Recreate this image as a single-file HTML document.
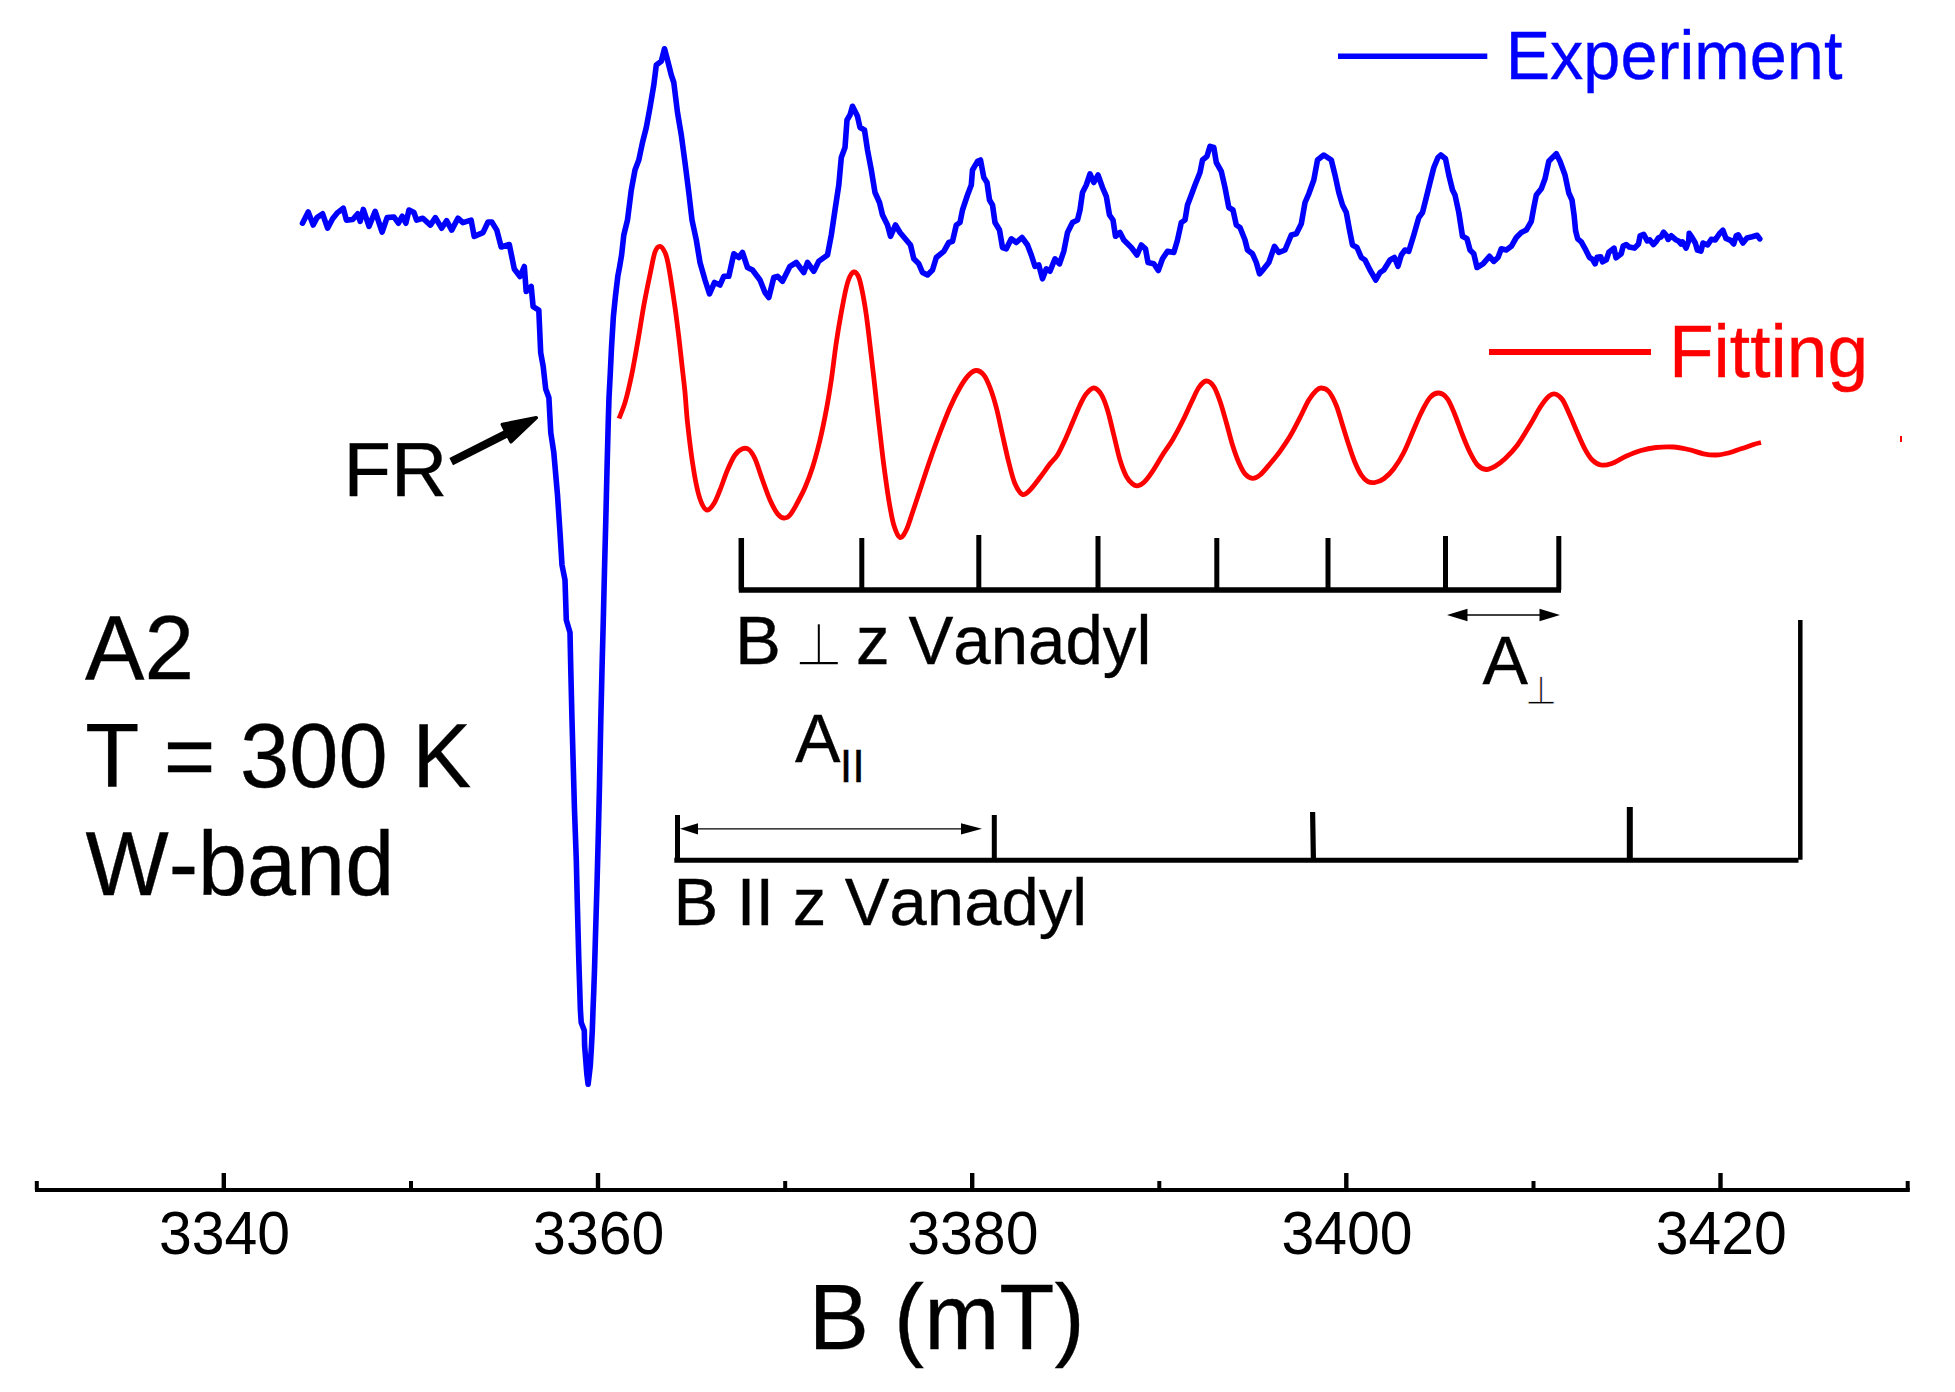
<!DOCTYPE html>
<html lang="en"><head><meta charset="utf-8"><title>W-band EPR spectrum A2</title>
<style>html,body{margin:0;padding:0;background:#fff;overflow:hidden}svg{display:block}text{font-family:"Liberation Sans",Arial,Helvetica,sans-serif;fill:#000;font-kerning:none;white-space:pre;stroke:#000;stroke-width:0.35px}.sym{font-family:"DejaVu Sans",sans-serif;stroke:#fff;paint-order:fill stroke}</style>
</head><body>
<svg width="1955" height="1392" viewBox="0 0 1955 1392">
<rect width="1955" height="1392" fill="#fff"/>
<path d="M302.5,223.2 L308.2,212.0 L313.2,225.0 L317.0,217.6 L322.6,213.8 L327.6,228.2 L332.6,218.8 L337.6,212.6 L343.3,208.2 L346.4,220.1 L352.7,219.5 L357.7,213.8 L360.2,221.4 L363.3,209.4 L369.0,226.4 L375.2,211.3 L382.1,232.0 L387.1,217.6 L394.0,217.0 L398.4,223.2 L402.2,216.3 L405.9,223.2 L409.0,210.0 L414.0,212.6 L416.6,220.1 L422.8,218.2 L430.4,225.1 L435.4,217.6 L441.6,228.2 L446.6,220.7 L451.7,230.1 L457.9,218.2 L462.9,222.6 L471.1,220.1 L474.2,236.4 L483.0,232.6 L488.0,222.0 L491.8,222.0 L496.8,230.1 L501.2,247.0 L509.3,244.5 L514.3,269.0 L520.0,276.5 L524.3,266.5 L526.2,291.5 L531.2,286.5 L533.1,306.6 L538.8,310.1 L540.7,352.7 L543.2,366.5 L545.7,389.0 L548.9,397.8 L550.8,432.9 L553.8,452.5 L557.5,495.0 L560.0,532.5 L562.0,565.0 L565.0,580.0 L566.3,620.0 L570.0,632.5 L570.8,670.0 L572.0,720.0 L573.3,767.5 L574.5,810.0 L576.3,860.0 L577.5,910.0 L578.8,960.0 L580.4,1010.0 L581.2,1022.4 L584.3,1030.4 L584.6,1045.5 L585.8,1060.6 L586.8,1073.7 L588.1,1084.3 L590.3,1065.6 L591.5,1045.5 L592.3,1030.4 L593.0,1010.3 L593.8,990.2 L594.5,970.0 L595.5,935.0 L597.0,885.0 L598.3,835.0 L599.5,785.0 L600.0,760.0 L600.8,720.0 L602.0,670.0 L603.3,620.0 L604.5,570.0 L605.8,520.0 L607.0,470.0 L608.3,420.0 L609.0,397.8 L610.3,372.8 L611.5,347.7 L613.4,316.4 L615.3,297.6 L617.8,276.3 L619.7,266.3 L621.6,255.0 L623.8,235.0 L627.5,220.0 L631.3,190.0 L635.0,170.0 L638.8,160.0 L642.5,142.5 L646.3,127.5 L650.0,107.5 L653.8,85.0 L656.3,65.0 L661.3,61.3 L664.5,48.8 L667.5,60.0 L671.3,75.0 L673.8,82.5 L677.5,112.5 L681.3,135.0 L685.0,162.5 L688.8,192.5 L692.0,220.0 L696.3,240.0 L700.0,262.5 L705.0,280.0 L709.5,293.8 L714.5,282.5 L720.0,285.0 L723.8,276.3 L728.8,276.3 L733.8,253.8 L738.8,257.5 L742.5,252.5 L747.5,267.5 L752.5,270.0 L760.0,280.0 L765.0,292.5 L768.8,297.5 L773.8,277.5 L777.5,276.3 L782.5,281.3 L790.0,266.3 L796.3,262.5 L803.8,272.5 L807.5,262.5 L813.8,271.3 L818.8,261.3 L827.5,255.0 L831.3,235.0 L835.0,210.0 L838.8,185.0 L841.3,157.5 L845.0,147.5 L847.0,120.0 L850.0,115.0 L852.5,106.3 L857.5,116.3 L860.0,127.5 L864.5,130.0 L867.5,150.0 L871.3,170.0 L875.0,192.5 L879.5,202.5 L882.5,215.0 L887.5,225.0 L890.5,236.3 L895.5,225.0 L900.0,232.5 L906.3,240.0 L910.5,245.0 L913.8,258.8 L918.8,263.8 L922.5,272.5 L927.5,275.0 L932.5,270.0 L936.3,257.5 L943.8,251.3 L948.8,242.5 L952.5,241.3 L956.3,225.0 L960.0,222.5 L962.5,210.0 L967.5,195.0 L971.3,185.0 L972.5,170.0 L977.5,161.3 L980.5,160.0 L983.8,177.5 L987.0,182.5 L989.5,200.0 L992.5,205.0 L995.0,222.5 L999.5,230.0 L1002.5,247.5 L1006.3,248.8 L1011.3,238.8 L1016.3,242.5 L1022.0,237.5 L1027.5,245.0 L1031.3,255.0 L1035.0,266.3 L1038.8,265.0 L1042.5,278.8 L1046.3,268.8 L1050.0,271.3 L1055.0,258.8 L1059.5,263.8 L1063.8,251.3 L1067.5,232.5 L1072.5,222.5 L1077.5,220.0 L1080.0,210.0 L1082.5,192.5 L1086.3,185.0 L1090.0,173.8 L1093.8,182.5 L1098.0,175.0 L1102.5,187.5 L1106.3,196.3 L1109.5,215.0 L1113.0,220.0 L1115.5,236.3 L1120.0,232.5 L1123.8,240.0 L1131.3,247.5 L1137.0,255.0 L1141.3,245.0 L1145.5,248.8 L1148.0,262.5 L1153.8,263.8 L1158.3,270.5 L1162.5,258.8 L1167.5,251.3 L1173.8,252.5 L1177.5,240.0 L1181.3,222.5 L1185.0,220.0 L1187.5,205.0 L1191.3,195.0 L1195.0,185.0 L1200.0,172.5 L1202.5,160.0 L1207.0,156.3 L1210.0,146.3 L1213.8,147.5 L1216.3,162.5 L1221.3,171.3 L1225.0,187.5 L1228.8,207.5 L1233.0,210.0 L1236.3,225.0 L1240.0,227.5 L1245.0,240.0 L1247.5,250.0 L1252.5,253.8 L1256.3,262.5 L1259.5,273.8 L1263.8,268.8 L1268.8,262.5 L1274.5,246.3 L1278.8,252.5 L1285.0,250.0 L1291.3,235.0 L1296.3,233.8 L1301.3,223.8 L1305.0,202.5 L1308.8,193.8 L1313.8,180.0 L1317.5,160.0 L1323.8,155.0 L1331.3,160.0 L1335.0,175.0 L1338.8,192.5 L1342.5,205.0 L1346.3,212.5 L1349.5,230.0 L1352.5,245.0 L1357.0,247.5 L1361.3,257.5 L1365.0,260.0 L1370.0,270.0 L1375.8,280.0 L1380.0,272.5 L1383.8,270.0 L1390.0,260.0 L1394.5,257.5 L1398.0,266.3 L1401.3,255.0 L1405.0,250.0 L1408.8,251.3 L1413.8,235.0 L1418.8,217.5 L1422.5,212.5 L1426.3,197.5 L1430.0,182.5 L1433.8,167.5 L1438.0,157.5 L1440.8,155.0 L1445.5,158.8 L1448.8,175.0 L1452.5,190.0 L1455.0,195.0 L1458.8,212.5 L1462.5,236.3 L1467.0,238.8 L1470.0,250.0 L1473.8,253.8 L1477.0,267.5 L1483.0,263.8 L1489.5,256.3 L1493.8,261.3 L1498.0,257.5 L1501.3,248.8 L1506.3,250.0 L1511.3,246.3 L1516.3,237.5 L1521.3,232.5 L1526.3,230.0 L1531.3,221.3 L1533.8,207.5 L1536.3,195.0 L1541.3,188.8 L1545.0,178.8 L1548.8,161.3 L1552.5,157.5 L1556.3,153.8 L1560.0,161.3 L1565.0,175.0 L1568.8,193.0 L1572.0,200.0 L1574.1,215.3 L1575.6,230.7 L1577.7,238.9 L1581.3,241.9 L1585.3,249.1 L1589.4,257.3 L1592.5,259.3 L1595.1,263.9 L1597.1,257.3 L1600.7,256.8 L1602.5,261.9 L1606.3,259.8 L1608.9,252.2 L1614.0,248.1 L1616.0,257.8 L1621.2,253.7 L1623.2,246.0 L1626.3,244.5 L1629.3,247.1 L1634.5,248.1 L1638.5,244.0 L1640.1,235.8 L1643.7,234.3 L1647.2,240.9 L1649.8,239.9 L1653.4,244.5 L1655.9,241.9 L1658.5,237.9 L1661.1,236.8 L1663.6,232.2 L1666.2,235.3 L1668.2,239.4 L1671.3,235.8 L1675.4,239.4 L1678.4,240.9 L1681.0,244.0 L1682.5,241.9 L1686.1,248.1 L1688.7,240.9 L1689.2,233.2 L1692.3,237.9 L1695.3,243.0 L1697.4,250.1 L1700.9,251.2 L1703.0,243.0 L1707.6,245.0 L1711.2,239.4 L1715.3,239.9 L1719.4,233.8 L1722.9,230.2 L1726.0,238.4 L1730.6,240.4 L1733.7,244.0 L1736.2,235.8 L1738.3,234.8 L1742.9,243.0 L1747.0,237.9 L1752.1,236.8 L1757.2,235.3 L1759.8,238.9" fill="none" stroke="#0000ff" stroke-width="5.6" stroke-linejoin="round" stroke-linecap="round"/>
<path d="M619.0,418.5 C620.0,415.7 623.2,408.8 625.3,401.6 C627.4,394.4 629.5,385.3 631.6,375.3 C633.7,365.3 635.7,353.4 637.8,341.5 C639.9,329.6 642.0,315.4 644.1,303.9 C646.2,292.4 648.6,281.1 650.4,272.5 C652.2,263.9 653.4,256.4 655.0,252.0 C656.6,247.6 658.3,246.2 660.0,246.3 C661.7,246.4 663.7,249.7 665.0,252.5 C666.3,255.3 666.9,257.6 668.0,263.0 C669.1,268.4 670.5,277.2 671.7,285.1 C672.9,293.0 674.2,301.8 675.4,310.1 C676.5,318.5 677.5,326.4 678.6,335.2 C679.7,344.0 680.7,353.6 681.7,362.8 C682.7,372.0 683.8,380.4 684.8,390.3 C685.8,400.2 686.2,410.5 687.5,422.5 C688.8,434.5 690.8,451.2 692.5,462.5 C694.2,473.8 695.8,482.9 697.5,490.0 C699.2,497.1 700.8,501.7 702.5,505.0 C704.2,508.3 705.6,510.2 707.5,510.0 C709.4,509.8 711.7,507.1 713.8,503.8 C715.9,500.5 717.7,495.6 720.0,490.0 C722.3,484.4 725.0,475.8 727.5,470.0 C730.0,464.2 732.5,458.5 735.0,455.0 C737.5,451.5 740.2,449.7 742.5,448.8 C744.8,447.9 746.7,447.8 748.8,449.5 C750.9,451.2 752.7,453.7 755.0,458.8 C757.3,463.9 760.0,473.1 762.5,480.0 C765.0,486.9 767.5,494.4 770.0,500.0 C772.5,505.6 775.2,510.8 777.5,513.8 C779.8,516.8 781.7,517.8 783.8,518.0 C785.9,518.2 787.7,517.6 790.0,515.0 C792.3,512.4 795.0,507.1 797.5,502.5 C800.0,497.9 802.5,493.3 805.0,487.5 C807.5,481.7 810.0,475.4 812.5,467.5 C815.0,459.6 817.7,449.6 820.0,440.0 C822.3,430.4 824.4,420.0 826.3,410.0 C828.2,400.0 829.6,391.2 831.3,380.0 C833.0,368.8 834.6,353.8 836.3,342.5 C838.0,331.2 839.6,321.7 841.3,312.5 C843.0,303.3 844.8,293.5 846.3,287.5 C847.8,281.5 848.7,278.9 850.0,276.3 C851.3,273.7 852.8,271.8 854.3,272.0 C855.8,272.2 857.4,274.1 858.8,277.5 C860.2,280.9 861.2,286.2 862.5,292.5 C863.8,298.8 865.0,306.2 866.3,315.0 C867.5,323.8 868.8,334.6 870.0,345.0 C871.2,355.4 872.3,364.6 873.8,377.5 C875.3,390.4 877.1,407.9 878.8,422.5 C880.5,437.1 882.1,452.1 883.8,465.0 C885.5,477.9 887.1,490.0 888.8,500.0 C890.5,510.0 891.9,518.8 893.8,525.0 C895.7,531.2 897.9,536.7 900.0,537.5 C902.1,538.3 904.2,534.2 906.3,530.0 C908.4,525.8 910.2,519.2 912.5,512.5 C914.8,505.8 917.1,498.8 920.0,490.0 C922.9,481.2 926.7,469.6 930.0,460.0 C933.3,450.4 936.7,441.2 940.0,432.5 C943.3,423.8 946.7,415.0 950.0,407.5 C953.3,400.0 956.9,392.9 960.0,387.5 C963.1,382.1 966.1,377.8 968.8,375.0 C971.5,372.2 973.8,370.5 976.3,370.5 C978.8,370.5 981.5,372.2 983.8,375.0 C986.1,377.8 987.9,382.1 990.0,387.5 C992.1,392.9 994.2,399.6 996.3,407.5 C998.4,415.4 1000.4,425.8 1002.5,435.0 C1004.6,444.2 1006.7,454.4 1008.8,462.5 C1010.9,470.6 1012.7,478.5 1015.0,483.8 C1017.3,489.1 1020.0,493.5 1022.5,494.5 C1025.0,495.5 1027.1,492.8 1030.0,490.0 C1032.9,487.2 1036.7,481.9 1040.0,477.5 C1043.3,473.1 1047.1,467.6 1050.0,463.8 C1052.9,460.1 1055.0,459.0 1057.5,455.0 C1060.0,451.0 1062.5,445.4 1065.0,440.0 C1067.5,434.6 1070.0,428.3 1072.5,422.5 C1075.0,416.7 1077.7,409.8 1080.0,405.0 C1082.3,400.2 1084.0,396.6 1086.3,393.8 C1088.6,391.0 1091.3,387.9 1093.8,388.0 C1096.3,388.1 1099.0,390.8 1101.3,394.5 C1103.6,398.2 1105.4,403.2 1107.5,410.0 C1109.6,416.8 1111.7,426.7 1113.8,435.0 C1115.9,443.3 1117.9,453.1 1120.0,460.0 C1122.1,466.9 1124.2,472.3 1126.3,476.3 C1128.4,480.3 1130.6,482.2 1132.5,483.8 C1134.4,485.4 1135.6,486.0 1137.5,485.8 C1139.4,485.6 1141.3,484.9 1143.8,482.5 C1146.3,480.1 1149.4,475.9 1152.5,471.3 C1155.6,466.7 1159.2,460.2 1162.5,455.0 C1165.8,449.8 1169.2,445.6 1172.5,440.0 C1175.8,434.4 1179.4,427.6 1182.5,421.3 C1185.6,415.1 1188.6,408.1 1191.3,402.5 C1194.0,396.9 1196.3,391.1 1198.8,387.5 C1201.3,383.9 1203.8,381.2 1206.3,381.0 C1208.8,380.8 1211.5,383.1 1213.8,386.5 C1216.1,389.9 1217.9,395.3 1220.0,401.3 C1222.1,407.3 1224.2,415.2 1226.3,422.5 C1228.4,429.8 1230.4,438.3 1232.5,445.0 C1234.6,451.7 1236.7,457.7 1238.8,462.5 C1240.9,467.3 1242.7,471.2 1245.0,473.8 C1247.3,476.4 1250.0,478.1 1252.5,478.3 C1255.0,478.5 1257.1,477.4 1260.0,475.0 C1262.9,472.6 1266.7,467.8 1270.0,463.8 C1273.3,459.9 1276.7,455.9 1280.0,451.3 C1283.3,446.7 1286.7,441.9 1290.0,436.3 C1293.3,430.7 1296.9,423.6 1300.0,417.5 C1303.1,411.4 1306.1,404.5 1308.8,400.0 C1311.5,395.5 1314.2,392.5 1316.3,390.5 C1318.4,388.5 1319.2,387.8 1321.3,388.0 C1323.4,388.2 1326.3,388.6 1328.8,391.5 C1331.3,394.4 1334.0,399.9 1336.3,405.5 C1338.6,411.1 1340.4,418.4 1342.5,425.0 C1344.6,431.6 1346.7,438.8 1348.8,445.0 C1350.9,451.2 1352.9,457.5 1355.0,462.5 C1357.1,467.5 1359.2,471.9 1361.3,475.0 C1363.4,478.1 1365.2,480.1 1367.5,481.3 C1369.8,482.6 1372.3,482.9 1375.0,482.5 C1377.7,482.1 1380.7,481.1 1383.8,478.8 C1386.9,476.5 1390.5,473.2 1393.8,468.8 C1397.1,464.4 1400.7,458.6 1403.8,452.5 C1406.9,446.4 1409.6,439.2 1412.5,432.5 C1415.4,425.8 1418.4,418.3 1421.3,412.5 C1424.2,406.7 1427.1,400.8 1430.0,397.5 C1432.9,394.2 1435.9,392.8 1438.8,393.0 C1441.7,393.2 1444.8,395.1 1447.5,398.8 C1450.2,402.5 1452.5,409.0 1455.0,415.0 C1457.5,421.0 1460.0,428.8 1462.5,435.0 C1465.0,441.2 1467.5,447.5 1470.0,452.5 C1472.5,457.5 1474.8,462.2 1477.5,465.0 C1480.2,467.8 1483.4,469.3 1486.3,469.5 C1489.2,469.7 1491.9,468.1 1495.0,466.3 C1498.1,464.5 1501.2,462.4 1505.0,458.8 C1508.8,455.2 1513.3,450.6 1517.5,445.0 C1521.7,439.4 1526.2,431.2 1530.0,425.0 C1533.8,418.8 1536.9,412.3 1540.0,407.5 C1543.1,402.7 1546.3,398.6 1548.8,396.3 C1551.3,394.1 1552.8,393.5 1555.0,394.0 C1557.2,394.5 1559.8,396.0 1562.3,399.5 C1564.8,403.0 1567.3,409.5 1569.8,415.0 C1572.3,420.5 1574.8,426.9 1577.3,432.5 C1579.8,438.1 1582.3,444.2 1584.8,448.8 C1587.3,453.4 1589.6,457.3 1592.3,460.0 C1595.0,462.7 1597.9,464.4 1601.0,465.0 C1604.1,465.6 1606.8,465.2 1611.0,463.8 C1615.2,462.4 1621.0,458.5 1626.0,456.3 C1631.0,454.1 1636.0,452.0 1641.0,450.5 C1646.0,449.0 1650.6,448.1 1656.0,447.5 C1661.4,446.9 1668.1,446.7 1673.5,447.0 C1678.9,447.3 1683.5,448.4 1688.5,449.5 C1693.5,450.6 1698.9,452.9 1703.5,453.8 C1708.1,454.7 1711.8,455.1 1716.0,455.0 C1720.2,454.9 1724.3,454.0 1728.5,453.0 C1732.7,452.0 1736.8,450.2 1741.0,448.8 C1745.2,447.4 1750.2,445.6 1753.5,444.5 C1756.8,443.4 1759.8,442.8 1761.0,442.5" fill="none" stroke="#ff0000" stroke-width="4.8" stroke-linejoin="round" stroke-linecap="butt"/>
<line x1="1338" y1="56.2" x2="1487.3" y2="56.2" stroke="#0000ff" stroke-width="5.5"/>
<line x1="1489" y1="352" x2="1651" y2="352" stroke="#ff0000" stroke-width="6"/>
<rect x="1900" y="436" width="2" height="6" fill="#ff0000"/>
<text transform="translate(1505.67,78.90) scale(0.9692,1)" font-size="68.70" style="fill:#0000ff;stroke:#0000ff">Experiment</text>
<text transform="translate(1668.95,377.00) scale(0.9857,1)" font-size="74.20" style="fill:#ff0000;stroke:#ff0000">Fitting</text>
<text transform="translate(343.57,495.90) scale(1.0210,1)" font-size="76.23">FR</text>
<text transform="translate(85.00,678.80) scale(0.9764,1)" font-size="91.30">A2</text>
<text transform="translate(85.23,787.00) scale(0.9657,1)" font-size="91.59">T = 300 K</text>
<text transform="translate(85.42,895.00) scale(0.9659,1)" font-size="91.30">W-band</text>
<text transform="translate(734.99,664.20) scale(1.0110,1)" font-size="68.12">B</text>
<text transform="translate(856.11,663.90) scale(0.9873,1)" font-size="68.12">z Vanadyl</text>
<text transform="translate(673.44,924.50) scale(0.9951,1)" font-size="67.39">B II z Vanadyl</text>
<text transform="translate(795.00,762.00) scale(1.0010,1)" font-size="68.12">A</text>
<text transform="translate(839.74,782.00) scale(0.9887,1)" font-size="45.65">II</text>
<text transform="translate(1482.50,683.75) scale(1.0063,1)" font-size="67.75">A</text>
<text transform="translate(808.78,1348.80) scale(0.9767,1)" font-size="92.46">B (mT)</text>
<text class="sym" transform="translate(794.17,664.55) scale(0.9518,1)" font-size="59.29" style="stroke-width:1.5px">⊥</text>
<text class="sym" transform="translate(1525.08,704.20) scale(0.9348,1)" font-size="39.43" style="stroke-width:0.8px">⊥</text>
<g stroke="#000" fill="none">
<line x1="35" y1="1190" x2="1909.8" y2="1190" stroke-width="4"/>
<line x1="223.8" y1="1173" x2="223.8" y2="1190" stroke-width="4.4"/>
<line x1="598.0" y1="1173" x2="598.0" y2="1190" stroke-width="4.4"/>
<line x1="972.2" y1="1173" x2="972.2" y2="1190" stroke-width="4.4"/>
<line x1="1346.3" y1="1173" x2="1346.3" y2="1190" stroke-width="4.4"/>
<line x1="1720.5" y1="1173" x2="1720.5" y2="1190" stroke-width="4.4"/>
<line x1="36.8" y1="1181" x2="36.8" y2="1190" stroke-width="4"/>
<line x1="411.0" y1="1181" x2="411.0" y2="1190" stroke-width="4"/>
<line x1="785.2" y1="1181" x2="785.2" y2="1190" stroke-width="4"/>
<line x1="1159.3" y1="1181" x2="1159.3" y2="1190" stroke-width="4"/>
<line x1="1533.5" y1="1181" x2="1533.5" y2="1190" stroke-width="4"/>
<line x1="1907.7" y1="1181" x2="1907.7" y2="1190" stroke-width="4"/>
<path d="M741.3,538 V590 M738.8,590 H1561" stroke-width="5.5"/>
<line x1="861.8" y1="538" x2="861.8" y2="590" stroke-width="5"/>
<line x1="978.8" y1="535" x2="978.8" y2="590" stroke-width="5"/>
<line x1="1098" y1="536" x2="1098" y2="590" stroke-width="5"/>
<line x1="1216.8" y1="538" x2="1216.8" y2="590" stroke-width="5"/>
<line x1="1328" y1="538" x2="1328" y2="590" stroke-width="5"/>
<line x1="1445.5" y1="536" x2="1445.5" y2="590" stroke-width="5"/>
<line x1="1558.8" y1="536" x2="1558.8" y2="590" stroke-width="5"/>
<path d="M674.3,860.2 H1798.5" stroke-width="4.9"/>
<line x1="677.5" y1="815" x2="677.5" y2="860" stroke-width="5"/>
<line x1="994.3" y1="815" x2="994.3" y2="860" stroke-width="5"/>
<line x1="1312.6" y1="812" x2="1313.4" y2="860" stroke-width="5.2"/>
<line x1="1629.8" y1="807" x2="1629.8" y2="860" stroke-width="6"/>
<line x1="1800.3" y1="620" x2="1800.3" y2="859.8" stroke-width="4.5"/>
<line x1="1460" y1="615" x2="1548" y2="615" stroke-width="1.3"/>
<line x1="690" y1="828.8" x2="970" y2="828.8" stroke-width="1.3"/>
</g>
<g fill="#000">
<polygon points="1447,615 1467.5,608.8 1467.5,621.2"/>
<polygon points="1560,615 1539.5,608.8 1539.5,621.2"/>
<polygon points="680,828.8 698,823.2 698,834.4"/>
<polygon points="982,828.8 961,823.2 961,834.4"/>
<line x1="451.2" y1="461.6" x2="508" y2="432.9" stroke="#000" stroke-width="8"/>
<polygon points="536.2,417.8 502.3,424.5 511,441.8" stroke="#000" stroke-width="3.5" stroke-linejoin="round"/>
</g>
<text transform="translate(158.94,1254.30) scale(0.9713,1)" font-size="60.71" style="stroke:none">3340</text>
<text transform="translate(533.12,1254.30) scale(0.9713,1)" font-size="60.71" style="stroke:none">3360</text>
<text transform="translate(907.30,1254.30) scale(0.9713,1)" font-size="60.71" style="stroke:none">3380</text>
<text transform="translate(1281.48,1254.30) scale(0.9713,1)" font-size="60.71" style="stroke:none">3400</text>
<text transform="translate(1655.66,1254.30) scale(0.9713,1)" font-size="60.71" style="stroke:none">3420</text>
</svg>
</body></html>
